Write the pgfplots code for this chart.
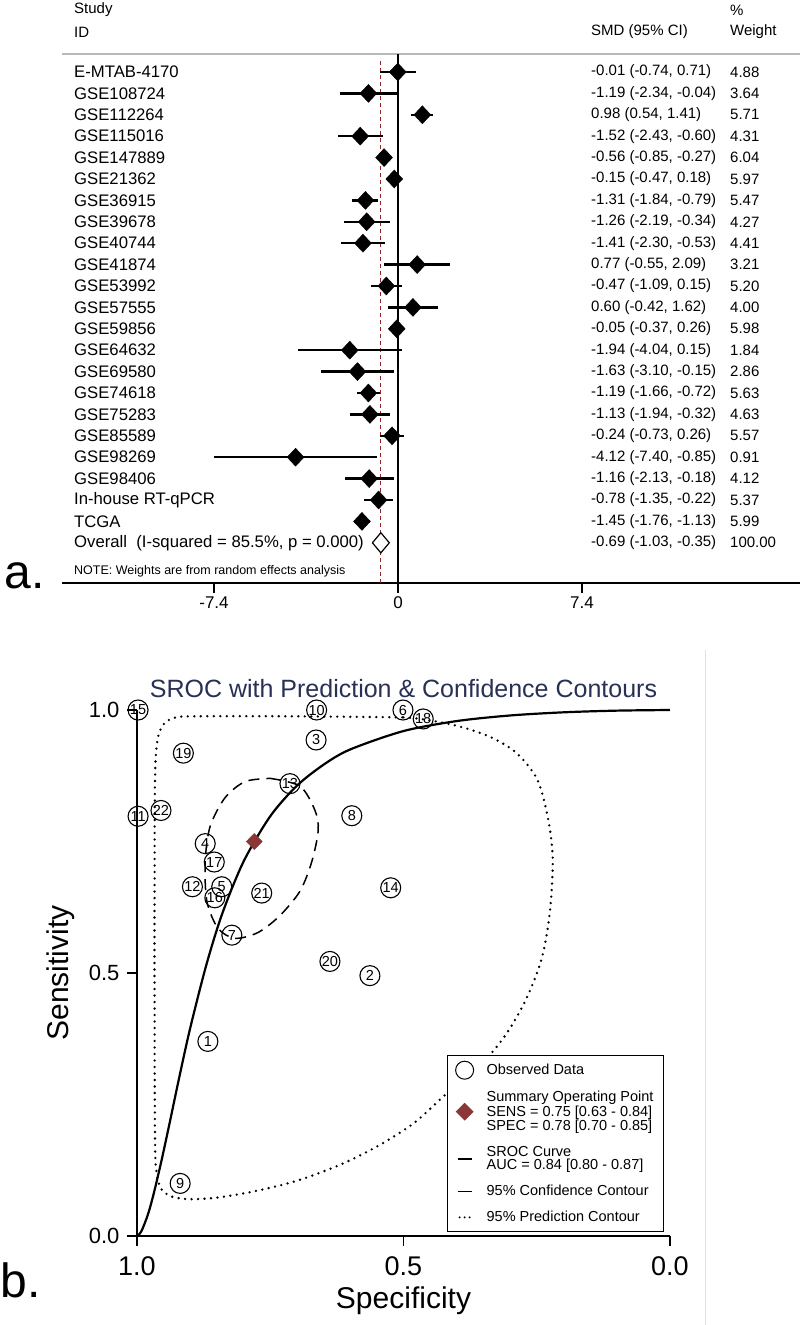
\documentclass[border=0pt]{standalone}
\usepackage{fontspec}
\setmainfont{Liberation Sans}
\usepackage{pgfplots}
\pgfplotsset{compat=1.18}
\usepackage{pgfplotstable}
\definecolor{dashred}{RGB}{150,35,35}
\definecolor{sumred}{RGB}{140,55,55}
\definecolor{titlenavy}{RGB}{40,48,85}
\newcommand{\rf}{\fontsize{16.7}{16.7}\selectfont}
\newcommand{\vf}{\fontsize{15}{15}\selectfont}
\newcommand{\nf}{\fontsize{12.5}{12.5}\selectfont}

\pgfplotstableread{
row est em ep
0 -0.01 0.73 0.72
-1 -1.19 1.15 1.15
-2 0.98 0.44 0.43
-3 -1.52 0.91 0.92
-4 -0.56 0.29 0.29
-5 -0.15 0.32 0.33
-6 -1.31 0.53 0.52
-7 -1.26 0.93 0.92
-8 -1.41 0.89 0.88
-9 0.77 1.32 1.32
-10 -0.47 0.62 0.62
-11 0.60 1.02 1.02
-12 -0.05 0.32 0.31
-13 -1.94 2.10 2.09
-14 -1.63 1.47 1.48
-15 -1.19 0.47 0.47
-16 -1.13 0.81 0.81
-17 -0.24 0.49 0.50
-18 -4.12 3.28 3.27
-19 -1.16 0.97 0.98
-20 -0.78 0.57 0.56
-21 -1.45 0.31 0.32
}\forestdata

\pgfplotstableread{
id spec sens
1 0.867 0.37
2 0.563 0.495
3 0.664 0.943
4 0.872 0.746
5 0.841 0.664
6 0.501 1.0
7 0.822 0.572
8 0.597 0.799
9 0.919 0.10
10 0.663 1.0
11 0.998 0.798
12 0.896 0.664
13 0.713 0.86
14 0.524 0.662
15 0.998 1.0
16 0.854 0.643
17 0.855 0.711
18 0.463 0.983
19 0.913 0.918
20 0.638 0.522
21 0.766 0.652
22 0.955 0.809
}\srocdata

\pgfplotstableread{
spec sens
1.0 0.0
0.999 0.0003
0.997 0.0018
0.994 0.0056
0.99 0.0129
0.98 0.0394
0.97 0.075
0.955 0.139
0.94 0.209
0.92 0.305
0.90 0.396
0.87 0.515
0.84 0.613
0.80 0.712
0.75 0.798
0.70 0.856
0.65 0.896
0.60 0.925
0.50 0.960
0.40 0.979
0.30 0.9896
0.20 0.9956
0.10 0.9988
0.0 1.0
}\sroccurve

\pgfplotstableread{
spec sens
0.750 0.870
0.694 0.855
0.666 0.809
0.660 0.771
0.672 0.712
0.694 0.656
0.732 0.609
0.773 0.577
0.816 0.566
0.848 0.585
0.869 0.637
0.872 0.712
0.863 0.778
0.835 0.833
0.797 0.864
0.750 0.870
}\confcont

\pgfplotstableread{
spec sens
0.50 0.986
0.46 0.982
0.40 0.97
0.34 0.95
0.29 0.92
0.25 0.87
0.23 0.80
0.22 0.72
0.225 0.62
0.24 0.53
0.27 0.45
0.31 0.38
0.36 0.32
0.42 0.27
0.48 0.215
0.55 0.17
0.62 0.135
0.70 0.105
0.78 0.085
0.85 0.073
0.90 0.070
0.935 0.075
0.955 0.09
0.963 0.12
0.966 0.17
0.967 0.40
0.967 0.70
0.966 0.88
0.962 0.94
0.955 0.965
0.945 0.978
0.93 0.985
0.90 0.988
0.70 0.988
0.50 0.986
}\predcont

\begin{document}
\begin{tikzpicture}
\path[use as bounding box] (0pt,0pt) rectangle (800pt,-1325pt);

% ---------------- forest plot ----------------
\begin{axis}[
  at={(62pt,-583pt)}, anchor=south west,
  scale only axis, width=738pt, height=583pt,
  xmin=-13.513, xmax=16.167, ymin=-23.879, ymax=3.364,
  axis x line*=bottom, axis y line=none,
  axis line style={line width=1.6pt, black},
  xtick={-7.4,0,7.4}, xticklabels={-7.4,0,7.4},
  ytick=\empty,
  tick align=outside, major tick length=10pt,
  tick style={line width=1.4pt, black},
  xticklabel style={font=\fontsize{17}{17}\selectfont},
  clip=false,
]
\addplot[gray!55, line width=1.2pt] coordinates {(-13.513,0.84) (16.167,0.84)};
\addplot[black, line width=1.6pt] coordinates {(0,0.84) (0,-23.879)};
\addplot[dashred, line width=1.1pt, dash pattern=on 4pt off 3pt] coordinates {(-0.69,0.5) (-0.69,-23.879)};
\addplot[black, only marks, mark=diamond*, mark size=9pt, mark options={xscale=1.25},
  error bars/.cd, x dir=both, x explicit,
  error bar style={line width=2.4pt, black}, error mark=none]
  table[x=est, y=row, x error minus=em, x error plus=ep] {\forestdata};
\addplot[black, line width=1.2pt, fill=white] coordinates {(-1.03,-22) (-0.69,-21.53) (-0.35,-22) (-0.69,-22.47) (-1.03,-22)};

\node[anchor=west, inner sep=0pt, font=\vf] at (axis cs:-13.03,2.90) {Study};
\node[anchor=west, inner sep=0pt, font=\vf] at (axis cs:-13.03,1.87) {ID};
\node[anchor=west, inner sep=0pt, font=\vf] at (axis cs:7.76,1.87) {SMD (95\% CI)};
\node[anchor=west, inner sep=0pt, font=\vf] at (axis cs:13.35,2.90) {\%};
\node[anchor=west, inner sep=0pt, font=\vf] at (axis cs:13.35,1.87) {Weight};

\node[anchor=west, inner sep=0pt, font=\rf] at (axis cs:-13.03,0) {E-MTAB-4170};
\node[anchor=west, inner sep=0pt, font=\rf] at (axis cs:-13.03,-1) {GSE108724};
\node[anchor=west, inner sep=0pt, font=\rf] at (axis cs:-13.03,-2) {GSE112264};
\node[anchor=west, inner sep=0pt, font=\rf] at (axis cs:-13.03,-3) {GSE115016};
\node[anchor=west, inner sep=0pt, font=\rf] at (axis cs:-13.03,-4) {GSE147889};
\node[anchor=west, inner sep=0pt, font=\rf] at (axis cs:-13.03,-5) {GSE21362};
\node[anchor=west, inner sep=0pt, font=\rf] at (axis cs:-13.03,-6) {GSE36915};
\node[anchor=west, inner sep=0pt, font=\rf] at (axis cs:-13.03,-7) {GSE39678};
\node[anchor=west, inner sep=0pt, font=\rf] at (axis cs:-13.03,-8) {GSE40744};
\node[anchor=west, inner sep=0pt, font=\rf] at (axis cs:-13.03,-9) {GSE41874};
\node[anchor=west, inner sep=0pt, font=\rf] at (axis cs:-13.03,-10) {GSE53992};
\node[anchor=west, inner sep=0pt, font=\rf] at (axis cs:-13.03,-11) {GSE57555};
\node[anchor=west, inner sep=0pt, font=\rf] at (axis cs:-13.03,-12) {GSE59856};
\node[anchor=west, inner sep=0pt, font=\rf] at (axis cs:-13.03,-13) {GSE64632};
\node[anchor=west, inner sep=0pt, font=\rf] at (axis cs:-13.03,-14) {GSE69580};
\node[anchor=west, inner sep=0pt, font=\rf] at (axis cs:-13.03,-15) {GSE74618};
\node[anchor=west, inner sep=0pt, font=\rf] at (axis cs:-13.03,-16) {GSE75283};
\node[anchor=west, inner sep=0pt, font=\rf] at (axis cs:-13.03,-17) {GSE85589};
\node[anchor=west, inner sep=0pt, font=\rf] at (axis cs:-13.03,-18) {GSE98269};
\node[anchor=west, inner sep=0pt, font=\rf] at (axis cs:-13.03,-19) {GSE98406};
\node[anchor=west, inner sep=0pt, font=\rf] at (axis cs:-13.03,-20) {In-house RT-qPCR};
\node[anchor=west, inner sep=0pt, font=\rf] at (axis cs:-13.03,-21) {TCGA};
\node[anchor=west, inner sep=0pt, font=\rf] at (axis cs:-13.03,-22) {Overall\ \ (I-squared = 85.5\%, p = 0.000)};
\node[anchor=west, inner sep=0pt, font=\nf] at (axis cs:-13.03,-23.32) {NOTE: Weights are from random effects analysis};

\node[anchor=west, inner sep=0pt, font=\vf] at (axis cs:7.76,0) {-0.01 (-0.74, 0.71)};
\node[anchor=west, inner sep=0pt, font=\vf] at (axis cs:7.76,-1) {-1.19 (-2.34, -0.04)};
\node[anchor=west, inner sep=0pt, font=\vf] at (axis cs:7.76,-2) {0.98 (0.54, 1.41)};
\node[anchor=west, inner sep=0pt, font=\vf] at (axis cs:7.76,-3) {-1.52 (-2.43, -0.60)};
\node[anchor=west, inner sep=0pt, font=\vf] at (axis cs:7.76,-4) {-0.56 (-0.85, -0.27)};
\node[anchor=west, inner sep=0pt, font=\vf] at (axis cs:7.76,-5) {-0.15 (-0.47, 0.18)};
\node[anchor=west, inner sep=0pt, font=\vf] at (axis cs:7.76,-6) {-1.31 (-1.84, -0.79)};
\node[anchor=west, inner sep=0pt, font=\vf] at (axis cs:7.76,-7) {-1.26 (-2.19, -0.34)};
\node[anchor=west, inner sep=0pt, font=\vf] at (axis cs:7.76,-8) {-1.41 (-2.30, -0.53)};
\node[anchor=west, inner sep=0pt, font=\vf] at (axis cs:7.76,-9) {0.77 (-0.55, 2.09)};
\node[anchor=west, inner sep=0pt, font=\vf] at (axis cs:7.76,-10) {-0.47 (-1.09, 0.15)};
\node[anchor=west, inner sep=0pt, font=\vf] at (axis cs:7.76,-11) {0.60 (-0.42, 1.62)};
\node[anchor=west, inner sep=0pt, font=\vf] at (axis cs:7.76,-12) {-0.05 (-0.37, 0.26)};
\node[anchor=west, inner sep=0pt, font=\vf] at (axis cs:7.76,-13) {-1.94 (-4.04, 0.15)};
\node[anchor=west, inner sep=0pt, font=\vf] at (axis cs:7.76,-14) {-1.63 (-3.10, -0.15)};
\node[anchor=west, inner sep=0pt, font=\vf] at (axis cs:7.76,-15) {-1.19 (-1.66, -0.72)};
\node[anchor=west, inner sep=0pt, font=\vf] at (axis cs:7.76,-16) {-1.13 (-1.94, -0.32)};
\node[anchor=west, inner sep=0pt, font=\vf] at (axis cs:7.76,-17) {-0.24 (-0.73, 0.26)};
\node[anchor=west, inner sep=0pt, font=\vf] at (axis cs:7.76,-18) {-4.12 (-7.40, -0.85)};
\node[anchor=west, inner sep=0pt, font=\vf] at (axis cs:7.76,-19) {-1.16 (-2.13, -0.18)};
\node[anchor=west, inner sep=0pt, font=\vf] at (axis cs:7.76,-20) {-0.78 (-1.35, -0.22)};
\node[anchor=west, inner sep=0pt, font=\vf] at (axis cs:7.76,-21) {-1.45 (-1.76, -1.13)};
\node[anchor=west, inner sep=0pt, font=\vf] at (axis cs:7.76,-22) {-0.69 (-1.03, -0.35)};

\node[anchor=west, inner sep=0pt, font=\vf] at (axis cs:13.35,0) {4.88};
\node[anchor=west, inner sep=0pt, font=\vf] at (axis cs:13.35,-1) {3.64};
\node[anchor=west, inner sep=0pt, font=\vf] at (axis cs:13.35,-2) {5.71};
\node[anchor=west, inner sep=0pt, font=\vf] at (axis cs:13.35,-3) {4.31};
\node[anchor=west, inner sep=0pt, font=\vf] at (axis cs:13.35,-4) {6.04};
\node[anchor=west, inner sep=0pt, font=\vf] at (axis cs:13.35,-5) {5.97};
\node[anchor=west, inner sep=0pt, font=\vf] at (axis cs:13.35,-6) {5.47};
\node[anchor=west, inner sep=0pt, font=\vf] at (axis cs:13.35,-7) {4.27};
\node[anchor=west, inner sep=0pt, font=\vf] at (axis cs:13.35,-8) {4.41};
\node[anchor=west, inner sep=0pt, font=\vf] at (axis cs:13.35,-9) {3.21};
\node[anchor=west, inner sep=0pt, font=\vf] at (axis cs:13.35,-10) {5.20};
\node[anchor=west, inner sep=0pt, font=\vf] at (axis cs:13.35,-11) {4.00};
\node[anchor=west, inner sep=0pt, font=\vf] at (axis cs:13.35,-12) {5.98};
\node[anchor=west, inner sep=0pt, font=\vf] at (axis cs:13.35,-13) {1.84};
\node[anchor=west, inner sep=0pt, font=\vf] at (axis cs:13.35,-14) {2.86};
\node[anchor=west, inner sep=0pt, font=\vf] at (axis cs:13.35,-15) {5.63};
\node[anchor=west, inner sep=0pt, font=\vf] at (axis cs:13.35,-16) {4.63};
\node[anchor=west, inner sep=0pt, font=\vf] at (axis cs:13.35,-17) {5.57};
\node[anchor=west, inner sep=0pt, font=\vf] at (axis cs:13.35,-18) {0.91};
\node[anchor=west, inner sep=0pt, font=\vf] at (axis cs:13.35,-19) {4.12};
\node[anchor=west, inner sep=0pt, font=\vf] at (axis cs:13.35,-20) {5.37};
\node[anchor=west, inner sep=0pt, font=\vf] at (axis cs:13.35,-21) {5.99};
\node[anchor=west, inner sep=0pt, font=\vf] at (axis cs:13.35,-22) {100.00};
\end{axis}

% ---------------- SROC plot ----------------
\begin{axis}[
  at={(137pt,-1236pt)}, anchor=south west,
  scale only axis, width=533pt, height=526pt,
  xmin=0, xmax=1, ymin=0, ymax=1, x dir=reverse,
  axis x line*=bottom, axis y line*=left,
  axis line style={line width=1.6pt, black},
  xtick={0,0.5,1}, xticklabels={0.0,0.5,1.0},
  ytick={0,0.5,1}, yticklabels={0.0,0.5,1.0},
  tick align=outside, major tick length=10pt,
  tick style={line width=1.4pt, black},
  xticklabel style={font=\fontsize{27}{27}\selectfont, yshift=-7pt},
  yticklabel style={font=\fontsize{22}{22}\selectfont, xshift=-4pt},
  xlabel={Specificity}, ylabel={Sensitivity},
  label style={font=\fontsize{30}{30}\selectfont},
  xlabel style={yshift=-4pt},
  ylabel style={yshift=7pt},
  title={SROC with Prediction \& Confidence Contours},
  title style={font=\fontsize{25}{25}\selectfont, text=titlenavy, yshift=3pt},
  clip=false,
  legend style={at={(axis description cs:0.5816,0.0076)}, anchor=south west,
    draw=black, line width=1.3pt, fill=white,
    font=\fontsize{14.5}{13.5}\selectfont,
    cells={anchor=west, align=left}, row sep=10pt,
    inner xsep=8pt, inner ysep=6pt,
    /tikz/every odd column/.append style={column sep=11pt}},
]
\addplot[black, line width=2.6pt, dash pattern=on 0pt off 6.5pt, line cap=round, smooth, forget plot] table[x=spec, y=sens] {\predcont};
\addplot[black, line width=1.5pt, dash pattern=on 11pt off 7pt, smooth, forget plot] table[x=spec, y=sens] {\confcont};
\addplot[black, line width=2.2pt, smooth, forget plot] table[x=spec, y=sens] {\sroccurve};
\addplot[black, only marks, mark=o, mark size=10pt, mark options={line width=1.1pt},
  nodes near coords, point meta=explicit symbolic,
  nodes near coords style={anchor=center, inner sep=0pt, font=\fontsize{14.5}{14.5}\selectfont},
  forget plot] table[x=spec, y=sens, meta=id] {\srocdata};
\addplot[sumred, only marks, mark=diamond*, mark size=8pt, mark options={xscale=1.33}, forget plot] coordinates {(0.78,0.75)};

\addlegendimage{black, only marks, mark=o, mark size=9pt, mark options={line width=1pt}}
\addlegendentry{Observed Data}
\addlegendimage{sumred, only marks, mark=diamond*, mark size=8pt, mark options={xscale=1.33}}
\addlegendentry{Summary Operating Point\\SENS = 0.75 [0.63 - 0.84]\\SPEC = 0.78 [0.70 - 0.85]}
\addlegendimage{legend image code/.code={\draw[black, line width=2.4pt] (1.5pt,0pt) -- (15.5pt,0pt);}}
\addlegendentry{SROC Curve\\AUC = 0.84 [0.80 - 0.87]}
\addlegendimage{legend image code/.code={\draw[black, line width=1.4pt] (1.5pt,0pt) -- (15.5pt,0pt);}}
\addlegendentry{95\% Confidence Contour}
\addlegendimage{legend image code/.code={\draw[black, line width=2.2pt, dash pattern=on 0pt off 5pt, line cap=round] (3.5pt,0pt) -- (14pt,0pt);}}
\addlegendentry{95\% Prediction Contour}
\end{axis}

\draw[black!12, line width=1pt] (705pt,-650pt) -- (705pt,-1325pt);
\node[font=\fontsize{48}{48}\selectfont] at (25pt,-576pt) {a.};
\node[font=\fontsize{48}{48}\selectfont] at (21pt,-1280pt) {b.};
\end{tikzpicture}
\end{document}
